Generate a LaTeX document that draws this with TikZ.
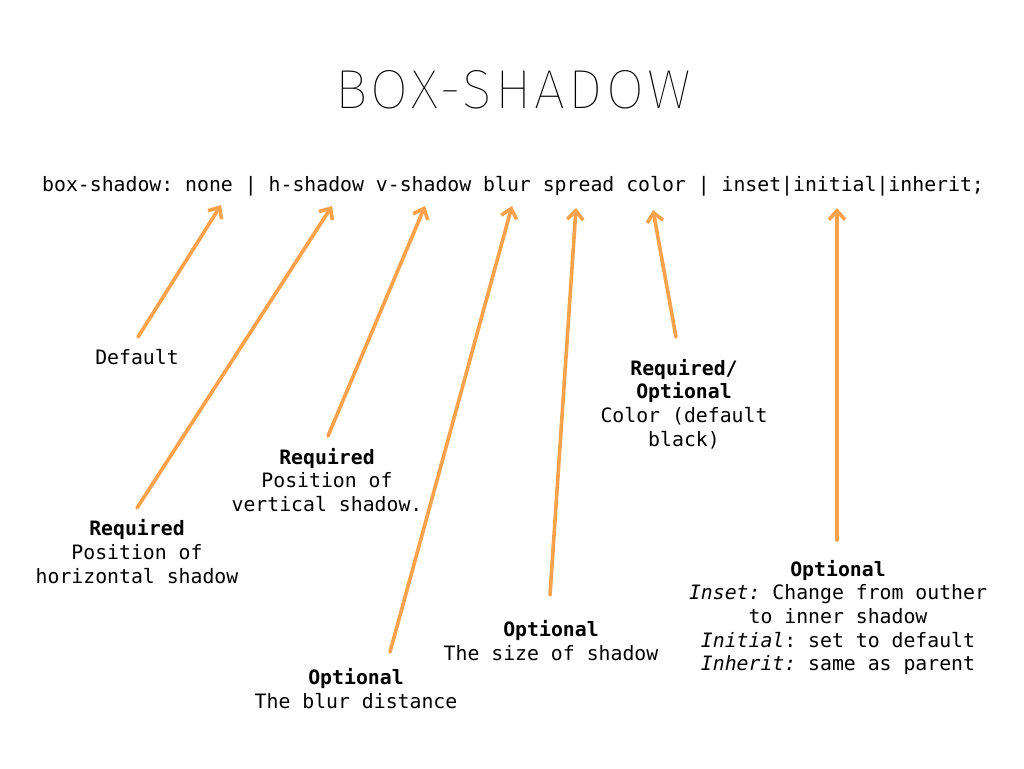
\documentclass[tikz,border=0pt]{standalone}
\usepackage{fontspec}
\setmonofont{DejaVu Sans Mono}
\newfontfamily\titlefont[LetterSpace=6]{Fira Sans Thin}
\usetikzlibrary{arrows.meta}
\definecolor{arr}{RGB}{250,162,75}
\begin{document}
\begin{tikzpicture}[x=1pt,y=-1pt,
  lbl/.style={font=\fontsize{19.8}{23.7}\selectfont\ttfamily, align=center, inner sep=0pt},
  pointer/.style={draw=arr, line width=3.6pt, line cap=round, line join=round,
    -{Straight Barb[length=9pt,width=16pt]}}]
\useasboundingbox[fill=white] (0,0) rectangle (1024,768);

\node[font=\titlefont\fontsize{55}{55}\selectfont, inner sep=0pt] (title) at (513,90) {BOX-SHADOW};
\node[lbl, anchor=base west] (code) at (42,191) {box-shadow: none | h-shadow v-shadow blur spread color | inset|initial|inherit;};

\node[lbl] (ldef) at (137,357) {Default};
\node[lbl] (lh) at (137,551.5) {\textbf{Required}\\Position of\\horizontal shadow};
\node[lbl] (lv) at (327,480) {\textbf{Required}\\Position of\\vertical shadow.};
\node[lbl] (lblur) at (356,688.5) {\textbf{Optional}\\The blur distance};
\node[lbl] (lspread) at (551,640.5) {\textbf{Optional}\\The size of shadow};
\node[lbl] (lcolor) at (684,404) {\textbf{Required/}\\\textbf{Optional}\\Color (default\\black)};
\node[lbl] (lins) at (838,617.5) {\textbf{Optional}\\\textit{Inset:} Change from outher\\to inner shadow\\\textit{Initial}: set to default\\\textit{Inherit:} same as parent};

\coordinate (tdef) at (221,205);
\coordinate (th) at (332,206);
\coordinate (tv) at (425,206);
\coordinate (tblur) at (512,206);
\coordinate (tspread) at (576,208);
\coordinate (tcolor) at (653,210);
\coordinate (tins) at (837,208);

\coordinate (sdef) at (138,337);
\coordinate (sh) at (137,508);
\coordinate (sv) at (328,436);
\coordinate (sblur) at (390,652);
\coordinate (sspread) at (550,595);
\coordinate (scolor) at (676,337);
\coordinate (sins) at (837,540);

\draw[pointer] (sdef) -- (tdef);
\draw[pointer] (sh) -- (th);
\draw[pointer] (sv) -- (tv);
\draw[pointer] (sblur) -- (tblur);
\draw[pointer] (sspread) -- (tspread);
\draw[pointer] (scolor) -- (tcolor);
\draw[pointer] (sins) -- (tins);
\end{tikzpicture}
\end{document}
